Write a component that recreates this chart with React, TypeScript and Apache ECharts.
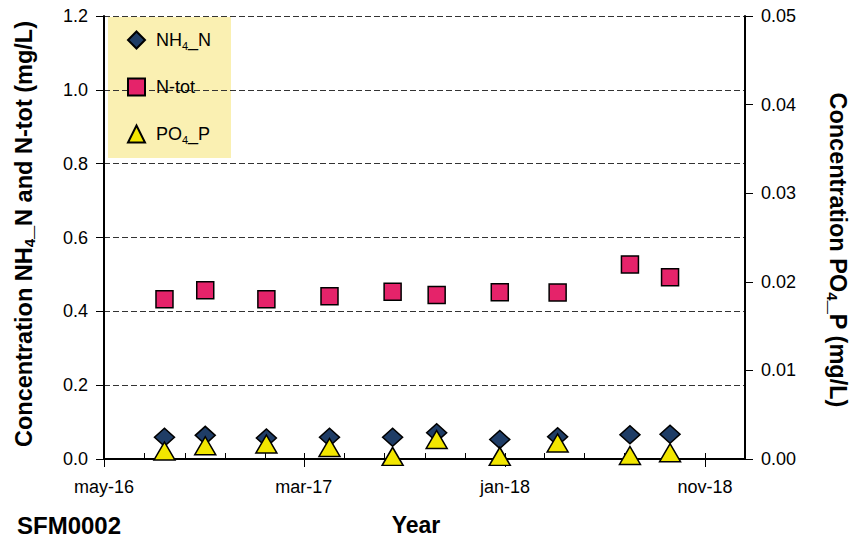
import React, { useEffect, useRef } from "react";
import * as echarts from "echarts";

// Sampling dates and measured concentrations (mg/L)
const SAMPLE_DATES = [
  "2016-08-01", "2016-10-02", "2017-01-03", "2017-04-09", "2017-07-14",
  "2017-09-19", "2017-12-24", "2018-03-22", "2018-07-10", "2018-09-09",
];
const NH4_N = [0.059, 0.064, 0.057, 0.059, 0.059, 0.071, 0.053, 0.06, 0.066, 0.067];
const N_TOT = [0.433, 0.457, 0.433, 0.441, 0.453, 0.444, 0.452, 0.451, 0.527, 0.492];
const PO4_P = [0.0009, 0.0015, 0.0017, 0.0013, 0.0003, 0.0022, 0.0003, 0.0018, 0.0004, 0.0007];

// Time axis range and tick positions
const X_RANGE = ["2016-05-01", "2019-01-01"];
const MAJOR_TICKS = ["2016-05-01", "2017-03-01", "2018-01-01", "2018-11-01"];
const MINOR_TICKS = [
  "2016-05-01", "2016-07-01", "2016-09-01", "2016-11-01", "2017-01-01", "2017-03-01",
  "2017-05-01", "2017-07-01", "2017-09-01", "2017-11-01", "2018-01-01", "2018-03-01",
  "2018-05-01", "2018-07-01", "2018-09-01", "2018-11-01", "2019-01-01",
];
const MONTHS = ["jan", "feb", "mar", "apr", "may", "jun", "jul", "aug", "sep", "oct", "nov", "dec"];

const SERIES_NAMES = ["NH4_N", "N-tot", "PO4_P"];
const LEGEND_LABELS: Record<string, string> = {
  "NH4_N": "{t|NH}{sub|4}{t|_N}",
  "N-tot": "{t|N-tot}",
  "PO4_P": "{t|PO}{sub|4}{t|_P}",
};

const FONT = "'Liberation Sans', Arial, sans-serif";
const ts = (d: string) => Date.parse(d + "T00:00:00Z");
const monthLabel = (v: number) => {
  const d = new Date(v);
  return `${MONTHS[d.getUTCMonth()]}-${String(d.getUTCFullYear()).slice(2)}`;
};

const titleRich = {
  main: { fontSize: 23.5, fontWeight: "bold", fontFamily: FONT, lineHeight: 26, verticalAlign: "middle" },
  sub: { fontSize: 15, fontWeight: "bold", fontFamily: FONT, verticalAlign: "bottom" },
};

export default function App() {
  const ref = useRef<HTMLDivElement>(null);

  useEffect(() => {
    if (!ref.current) return;
    const chart = echarts.init(ref.current, undefined, { renderer: "svg" });
    const pts = (vals: number[]) => SAMPLE_DATES.map((d, i) => [ts(d), vals[i]]);
    const border = { borderColor: "#000", borderWidth: 1.5, opacity: 1 };

    chart.setOption({
      animation: false,
      textStyle: { fontFamily: FONT },
      grid: { left: 104, right: 106, top: 16, bottom: 83, containLabel: false },
      legend: {
        orient: "vertical",
        left: 127,
        top: 29,
        padding: 0,
        itemGap: 25,
        itemWidth: 17,
        itemHeight: 17,
        itemTextGap: 12,
        data: [
          { name: "NH4_N", icon: "diamond" },
          { name: "N-tot", icon: "rect" },
          { name: "PO4_P", icon: "triangle" },
        ],
        formatter: (name: string) => LEGEND_LABELS[name],
        textStyle: {
          fontFamily: FONT,
          fontSize: 18,
          color: "#000",
          lineHeight: 22,
          padding: [0, 0, 0, 6],
          rich: {
            t: { fontSize: 18, lineHeight: 22, fontFamily: FONT, color: "#000", verticalAlign: "middle" },
            sub: { fontSize: 11, verticalAlign: "bottom", fontFamily: FONT, color: "#000" },
          },
        },
      },
      xAxis: [
        {
          type: "value",
          min: ts(X_RANGE[0]),
          max: ts(X_RANGE[1]),
          axisLine: { show: true, lineStyle: { color: "#000", width: 2 } },
          axisTick: {
            show: true,
            customValues: MAJOR_TICKS.map(ts),
            inside: false,
            length: 8,
            lineStyle: { color: "#000", width: 1 },
          },
          axisLabel: {
            customValues: MAJOR_TICKS.map(ts),
            formatter: (v: number) => monthLabel(v),
            fontSize: 18,
            color: "#000",
            margin: 19,
            fontFamily: FONT,
          },
          splitLine: { show: false },
        },
        {
          type: "value",
          position: "bottom",
          min: ts(X_RANGE[0]),
          max: ts(X_RANGE[1]),
          axisLine: { show: false },
          axisTick: {
            show: true,
            customValues: MINOR_TICKS.map(ts),
            inside: true,
            length: 6,
            lineStyle: { color: "#000", width: 1 },
          },
          axisLabel: { show: false },
          splitLine: { show: false },
        },
      ],
      yAxis: [
        {
          type: "value",
          position: "left",
          min: 0,
          max: 1.2,
          interval: 0.2,
          axisLine: { show: true, lineStyle: { color: "#000", width: 2 } },
          axisTick: { show: true, inside: false, length: 8, lineStyle: { color: "#000", width: 1 } },
          axisLabel: {
            formatter: (v: number) => v.toFixed(1),
            fontSize: 18,
            color: "#000",
            margin: 16,
            fontFamily: FONT,
          },
          splitLine: { show: true, lineStyle: { color: "#333", type: [6, 3], width: 1 } },
        },
        {
          type: "value",
          position: "right",
          min: 0,
          max: 0.05,
          interval: 0.01,
          axisLine: { show: true, lineStyle: { color: "#000", width: 2 } },
          axisTick: { show: true, inside: false, length: 8, lineStyle: { color: "#000", width: 1 } },
          axisLabel: {
            formatter: (v: number) => v.toFixed(2),
            fontSize: 18,
            color: "#000",
            margin: 16,
            fontFamily: FONT,
          },
          splitLine: { show: false },
        },
      ],
      graphic: [
        {
          type: "rect",
          z: -10,
          silent: true,
          shape: { x: 108, y: 17, width: 123, height: 141 },
          style: { fill: "#FAF0B2" },
        },
        {
          type: "text",
          x: 24,
          y: 234,
          rotation: Math.PI / 2,
          style: {
            text: "{main|Concentration NH}{sub|4}{main|_N and N-tot (mg/L)}",
            align: "center",
            verticalAlign: "middle",
            fontFamily: FONT,
            fontWeight: "bold",
            fontSize: 23.5,
            fill: "#000",
            rich: titleRich,
          },
        },
        {
          type: "text",
          x: 838,
          y: 250,
          rotation: -Math.PI / 2,
          style: {
            text: "{main|Concentration PO}{sub|4}{main|_P (mg/L)}",
            align: "center",
            verticalAlign: "middle",
            fontFamily: FONT,
            fontWeight: "bold",
            fontSize: 23.5,
            fill: "#000",
            rich: titleRich,
          },
        },
        {
          type: "text",
          x: 416,
          y: 525,
          style: {
            text: "Year",
            align: "center",
            verticalAlign: "middle",
            fontFamily: FONT,
            fontWeight: "bold",
            fontSize: 23,
            fill: "#000",
          },
        },
        {
          type: "text",
          x: 17,
          y: 525,
          style: {
            text: "SFM0002",
            align: "left",
            verticalAlign: "middle",
            fontFamily: FONT,
            fontWeight: "bold",
            fontSize: 24,
            fill: "#000",
          },
        },
      ],
      series: [
        {
          name: SERIES_NAMES[0],
          type: "scatter",
          xAxisIndex: 0,
          yAxisIndex: 0,
          symbol: "diamond",
          symbolSize: [20, 18],
          clip: false,
          itemStyle: { color: "#1F3D66", ...border },
          data: pts(NH4_N),
        },
        {
          name: SERIES_NAMES[1],
          type: "scatter",
          xAxisIndex: 0,
          yAxisIndex: 0,
          symbol: "rect",
          symbolSize: 17,
          clip: false,
          itemStyle: { color: "#E5236A", ...border },
          data: pts(N_TOT),
        },
        {
          name: SERIES_NAMES[2],
          type: "scatter",
          xAxisIndex: 0,
          yAxisIndex: 1,
          symbol: "triangle",
          symbolSize: [21, 18],
          clip: false,
          itemStyle: { color: "#F2E600", ...border },
          data: pts(PO4_P),
        },
      ],
    });

    return () => chart.dispose();
  }, []);

  return (
    <div
      ref={ref}
      style={{ position: "fixed", left: 0, top: 0, width: 851, height: 542, background: "#fff" }}
    />
  );
}
